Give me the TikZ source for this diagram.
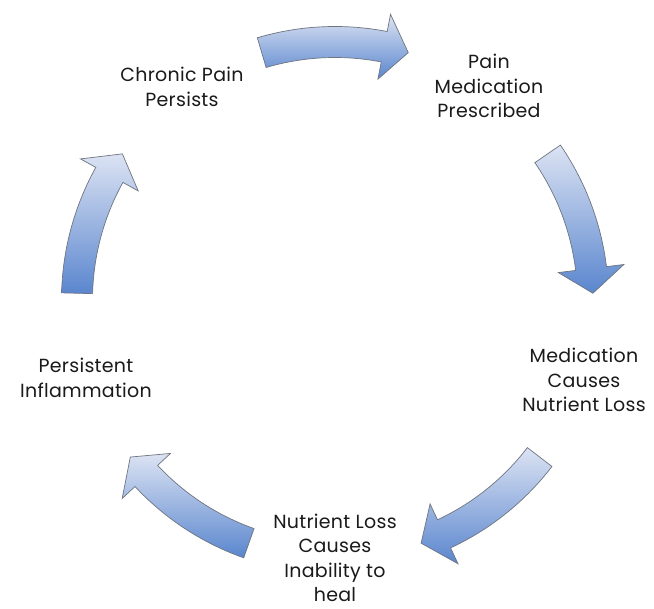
\documentclass[tikz,border=0pt]{standalone}
\usepackage{fontspec}
\setmainfont{Poppins}[LetterSpace=1.5]
\definecolor{arrowlight}{HTML}{DCE3F3}
\definecolor{arrowdark}{HTML}{5A86CE}
\definecolor{arrowline}{HTML}{6E7480}
\definecolor{txt}{HTML}{1A1A1A}
\newcommand{\cycarrow}[1]{%
  \path[cyclearrow]
    ({#1+16.5}:273.5) arc[start angle={#1+16.5}, end angle={#1-11}, radius=273.5]
    -- ({#1-11}:291) -- ({#1-16.5}:258) -- ({#1-11}:225) -- ({#1-11}:242.5)
    arc[start angle={#1-11}, end angle={#1+16.5}, radius=242.5] -- cycle;}
\begin{document}
\begin{tikzpicture}[x=1pt,y=1pt,
  cyclearrow/.style={draw=arrowline, line width=0.7pt, line join=miter,
    top color=arrowlight, bottom color=arrowdark},
  label/.style={align=center, font=\fontsize{19}{24.5}\selectfont, text=txt, inner sep=0pt}]
\useasboundingbox[fill=white] (-335,-309) rectangle (319,300);
\cycarrow{90}
\cycarrow{18}
\cycarrow{-54}
\cycarrow{-126}
\cycarrow{162}
\node[label] (chronic) at (-153,213) {Chronic Pain\\Persists};
\node[label] (painmed) at (154,214) {Pain\\Medication\\Prescribed};
\node[label] (medcause) at (249,-80) {Medication\\Causes\\Nutrient Loss};
\node[label] (nutrient) at (0,-258) {Nutrient Loss\\Causes\\Inability to\\heal};
\node[label] (persist) at (-249,-78) {Persistent\\Inflammation};
\end{tikzpicture}
\end{document}
